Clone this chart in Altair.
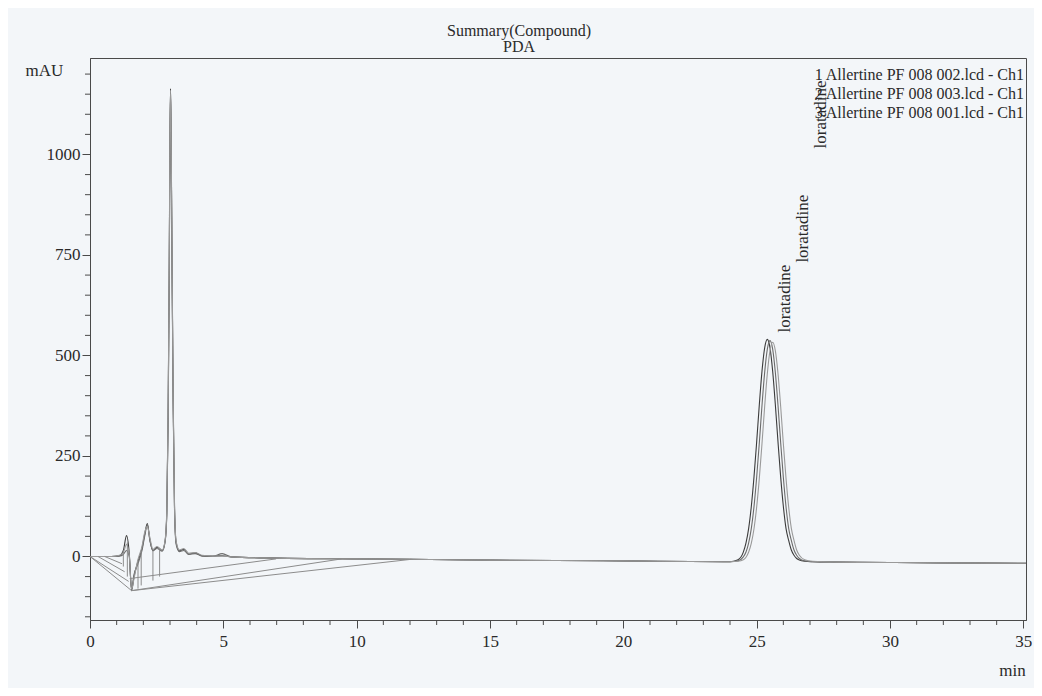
import altair as alt
import pandas as pd

# ---------------- data ----------------
time_min = [0, 0.8, 1.1, 1.25, 1.37, 1.47, 1.56, 1.65, 1.79, 1.95, 2.05, 2.15, 2.25, 2.36,
            2.51, 2.71, 2.82, 2.88, 2.93, 2.97, 3.0, 3.02, 3.04, 3.08, 3.12, 3.17, 3.23,
            3.35, 3.52, 3.7, 3.94, 4.2, 4.6, 4.96, 5.3, 7, 10, 12, 15, 20, 24, 24.3,
            24.5, 24.6, 24.7, 24.8, 24.9, 25.0, 25.1, 25.2, 25.3, 25.4, 25.5, 25.6, 25.7,
            25.8, 25.9, 26.0, 26.1, 26.2, 26.3, 26.4, 26.5, 26.6, 26.8, 27.1, 28, 30, 32, 35.1]

trace_1 = [0, 0, 2, 15, 52, 10, -85, -50, -14, 20, 55, 82, 40, 15,
           23, 15, 40, 110, 350, 700, 1050, 1164, 1060, 700, 380, 120, 35,
           14, 18, 6, 9, 2, 1, 2, -1, -4, -6, -7, -9, -11, -13, -8,
           11, 34, 70, 125, 198, 285, 378, 461, 519, 540, 519, 461, 378,
           285, 198, 125, 70, 40, 16, 3, -5, -9, -12, -13, -14, -15, -16, -17]

trace_2 = [0, 0, 1, 5, 15, 0, -80, -45, -20, 15, 50, 78, 38, 14,
           20, 13, 38, 105, 340, 690, 1040, 1150, 1050, 690, 370, 115, 30,
           12, 15, 5, 7, 1, 0, 7, -1, -4, -6, -7, -9, -11, -13, -11,
           -1, 11, 34, 70, 124, 197, 283, 376, 458, 516, 537, 516, 458,
           376, 283, 197, 124, 70, 40, 16, 3, -5, -11, -13, -14, -15, -16, -17]

trace_3 = [0, 0, 3, 10, 30, 5, -82, -55, -10, 25, 60, 75, 45, 18,
           25, 16, 42, 115, 360, 710, 1060, 1160, 1070, 710, 390, 125, 38,
           16, 20, 8, 10, 3, 1, 1, -1, -4, -6, -7, -9, -11, -13, -12,
           -8, -2, 11, 33, 69, 123, 195, 281, 373, 455, 512, 533, 512,
           455, 373, 281, 195, 123, 70, 40, 16, 3, -8, -12, -14, -15, -16, -17]

series_names = ["1 Allertine PF 008 002.lcd - Ch1",
                "2 Allertine PF 008 003.lcd - Ch1",
                "3 Allertine PF 008 001.lcd - Ch1"]
series_colors = ["#3c3c3c", "#6c6c6c", "#9a9a9a"]

# integration baselines and drop lines (start time, start value, end time, end value)
seg_t1 = [0.0, 0.0, 0.3, 0.55, 1.56, 1.49, 1.56, 1.80, 1.92, 2.36, 2.61, 1.25, 1.40]
seg_v1 = [0, 0, 0, 0, -85, -55, -85, -14, 15, 15, 16, 15, 35]
seg_t2 = [1.56, 1.45, 1.30, 1.20, 12.05, 6.98, 9.44, 1.80, 1.92, 2.36, 2.61, 1.25, 1.40]
seg_v2 = [-85, -62, -38, -18, -7, -6, -6, -80, -72, -60, -50, -25, -50]

# peak labels
peak_label_t = [26.08, 26.75, 27.42]
peak_label_v = [557, 731, 1015]
peak_label_text = ["loratadine", "loratadine", "loratadine"]

# axis ticks
x_major = [0, 5, 10, 15, 20, 25, 30, 35]
x_minor = [1, 2, 3, 4, 6, 7, 8, 9, 11, 12, 13, 14, 16, 17, 18, 19, 21, 22, 23, 24,
           26, 27, 28, 29, 31, 32, 33, 34]
y_major = [0, 250, 500, 750, 1000]
y_minor = [-150, -100, -50, 50, 100, 150, 200, 300, 350, 400, 450, 550, 600, 650, 700,
           800, 850, 900, 950, 1050, 1100, 1150, 1200]

# ---------------- tables ----------------
rows = []
for name, vals in zip(series_names, [trace_1, trace_2, trace_3]):
    for t, v in zip(time_min, vals):
        rows.append({"t": t, "v": v, "trace": name})
df = pd.DataFrame(rows)
seg_df = pd.DataFrame({"t": seg_t1, "v": seg_v1, "t2": seg_t2, "v2": seg_v2})
lab_df = pd.DataFrame({"t": peak_label_t, "v": peak_label_v, "label": peak_label_text})
xmin_df = pd.DataFrame({"t": x_minor})
ymin_df = pd.DataFrame({"v": y_minor})

W, H = 936, 562
FONT = "Liberation Serif"
INK = "#4a4a4a"
TXT = "#2a2a2a"

xs = alt.Scale(domain=[0, 35.1], nice=False, zero=False)
ys = alt.Scale(domain=[-158, 1240], nice=False, zero=False)

x_axis = alt.Axis(values=x_major, format="d", tickSize=8, labelPadding=5, labelFlush=False,
                  labelOverlap=False, title="min", titleX=922, titleY=50,
                  titleAlign="center", titleBaseline="middle", grid=False)
y_axis = alt.Axis(values=y_major, format="d", tickSize=8, labelPadding=2, labelOverlap=False,
                  title="mAU", titleAngle=0, titleX=-65, titleY=12,
                  titleAlign="left", titleBaseline="middle", grid=False)

X = lambda: alt.X("t:Q", scale=xs, axis=x_axis)
Y = lambda: alt.Y("v:Q", scale=ys, axis=y_axis)

lines = alt.Chart(df).mark_line(strokeWidth=1.1, interpolate="monotone").encode(
    x=X(), y=Y(),
    color=alt.Color("trace:N", scale=alt.Scale(domain=series_names, range=series_colors),
                    legend=None),
)

segments = alt.Chart(seg_df).mark_rule(color="#8c8c8c", strokeWidth=1).encode(
    x=X(), x2="t2:Q", y=Y(), y2="v2:Q",
)

labels = alt.Chart(lab_df).mark_text(angle=270, align="left", baseline="middle",
                                     font=FONT, fontSize=17, color=TXT).encode(
    x=X(), y=Y(), text="label:N",
)

x_minor_ticks = alt.Chart(xmin_df).mark_rule(color=INK, strokeWidth=1).encode(
    x=X(), y=alt.value(H), y2=alt.value(H + 5),
)
y_minor_ticks = alt.Chart(ymin_df).mark_rule(color=INK, strokeWidth=1).encode(
    y=Y(), x=alt.value(0), x2=alt.value(-5),
)

legend_text = alt.Chart(pd.DataFrame({"k": [0]})).mark_text(
    align="right", baseline="middle", font=FONT, fontSize=16, color=TXT, lineHeight=19,
).encode(x=alt.value(W - 2), y=alt.value(17), text=alt.value(series_names))

chart = alt.layer(lines, segments, labels, x_minor_ticks, y_minor_ticks, legend_text).properties(
    width=W, height=H,
    autosize=alt.AutoSizeParams(type="none"),
    padding={"left": 82, "top": 50, "right": 8, "bottom": 68},
    background="#f3f6f9",
    title=alt.TitleParams(["Summary(Compound)", "PDA"], font=FONT, fontSize=16,
                          fontWeight="normal", color=TXT, anchor="middle", frame="group",
                          dx=-39, offset=3, lineHeight=16),
).configure_view(stroke=INK, strokeWidth=1).configure_axis(
    domainColor=INK, tickColor=INK, labelFont=FONT, labelFontSize=17, labelColor=TXT,
    titleFont=FONT, titleFontSize=17, titleFontWeight="normal", titleColor=TXT,
)

chart.save("out.html", embed_options={"renderer": "svg", "actions": False})
